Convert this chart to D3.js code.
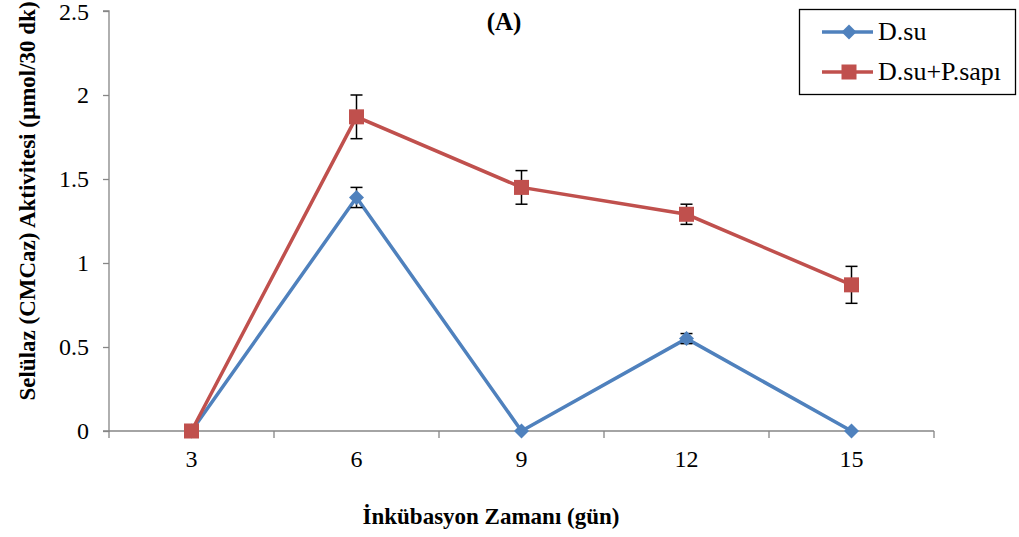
<!DOCTYPE html>
<html>
<head>
<meta charset="utf-8">
<script src="https://cdn.jsdelivr.net/npm/d3@7"></script>
<style>
  body { margin: 0; background: #fff; }
  text { font-family: "Liberation Serif", "Times New Roman", serif; fill: #000; }
</style>
</head>
<body>
<script>
var categories = ['3', '6', '9', '12', '15'],
    seriesNames = ['D.su', 'D.su+P.sapı'],
    suValues = [0, 1.39, 0, 0.55, 0],
    suErrors = [0, 0.06, 0, 0.03, 0],
    sapValues = [0, 1.87, 1.45, 1.29, 0.87],
    sapErrors = [0, 0.13, 0.1, 0.06, 0.11],
    yTicks = [0, 0.5, 1, 1.5, 2, 2.5];

var colors = ['#4F81BD', '#C0504D'];

var svg = d3.select('body').append('svg')
    .attr('width', 1019)
    .attr('height', 537);

var x = d3.scaleBand().domain(categories).range([109, 934]),
    y = d3.scaleLinear().domain([0, 2.5]).range([431, 11]);

// y axis
var yAxis = svg.append('g')
    .attr('transform', 'translate(109,0)')
    .call(d3.axisLeft(y).tickValues(yTicks).tickSize(6).tickPadding(14).tickFormat(function(d) { return d; }));
yAxis.selectAll('path, line').attr('stroke', '#868686').attr('stroke-width', 1.3);
yAxis.select('.domain').attr('d', 'M-6,11H0V431H-6');
yAxis.selectAll('text').style('font-size', '24px').style('font-family', 'Liberation Serif')
    .attr('dy', function(d) { return d === 2.5 ? '0.36em' : '0.32em'; });

// x axis
var xAxis = svg.append('g')
    .attr('transform', 'translate(0,431)')
    .call(d3.axisBottom(x).tickSize(0).tickPadding(19));
xAxis.select('.domain').attr('stroke', '#868686').attr('stroke-width', 1.3).attr('d', 'M109,0H934');
xAxis.selectAll('text').style('font-size', '24px').style('font-family', 'Liberation Serif');
var bounds = categories.map(function(c) { return x(c); }).concat([x.range()[1]]);
xAxis.selectAll('.bound').data(bounds).enter().append('line')
    .attr('x1', function(d) { return d; }).attr('x2', function(d) { return d; })
    .attr('y1', 0).attr('y2', 7)
    .attr('stroke', '#868686').attr('stroke-width', 1.3);

var cx = function(i) { return x(categories[i]) + x.bandwidth() / 2; };

var series = [
  { name: seriesNames[0], values: suValues, errors: suErrors, color: colors[0], marker: 'diamond' },
  { name: seriesNames[1], values: sapValues, errors: sapErrors, color: colors[1], marker: 'square' }
];

var line = d3.line()
    .x(function(d, i) { return cx(i); })
    .y(function(d) { return y(d); });

function drawMarker(g, type, px, py, color) {
  if (type === 'diamond') {
    g.append('path')
      .attr('d', 'M' + px + ',' + (py - 7.5) + 'L' + (px + 7.5) + ',' + py + 'L' + px + ',' + (py + 7.5) + 'L' + (px - 7.5) + ',' + py + 'Z')
      .attr('fill', color);
  } else {
    g.append('rect')
      .attr('x', px - 7.5).attr('y', py - 7.5)
      .attr('width', 15).attr('height', 15)
      .attr('fill', color);
  }
}

series.forEach(function(s) {
  var g = svg.append('g');
  g.append('path')
    .datum(s.values)
    .attr('d', line)
    .attr('fill', 'none')
    .attr('stroke', s.color)
    .attr('stroke-width', 3.5);

  s.values.forEach(function(v, i) {
    var e = s.errors[i];
    if (e > 0) {
      var px = cx(i);
      g.append('line').attr('x1', px).attr('x2', px).attr('y1', y(v + e)).attr('y2', y(v - e))
        .attr('stroke', '#000').attr('stroke-width', 1.5);
      [v + e, v - e].forEach(function(t) {
        g.append('line').attr('x1', px - 6).attr('x2', px + 6).attr('y1', y(t)).attr('y2', y(t))
          .attr('stroke', '#000').attr('stroke-width', 1.5);
      });
    }
  });

  s.values.forEach(function(v, i) {
    drawMarker(g, s.marker, cx(i), y(v), s.color);
  });
});

// title
svg.append('text')
  .attr('x', 504).attr('y', 30)
  .attr('text-anchor', 'middle')
  .style('font-size', '25px').style('font-weight', 'bold')
  .text('(A)');

// axis titles
svg.append('text')
  .attr('x', 491).attr('y', 524)
  .attr('text-anchor', 'middle')
  .style('font-size', '23px').style('font-weight', 'bold')
  .text('İnkübasyon Zamanı (gün)');

svg.append('text')
  .attr('transform', 'translate(35,201) rotate(-90)')
  .attr('text-anchor', 'middle')
  .style('font-size', '23px').style('font-weight', 'bold')
  .text('Selülaz (CMCaz) Aktivitesi (µmol/30 dk)');

// legend
var legend = svg.append('g');
legend.append('rect')
  .attr('x', 799.5).attr('y', 9.5).attr('width', 216).attr('height', 85)
  .attr('fill', '#fff').attr('stroke', '#000').attr('stroke-width', 1.3);

series.forEach(function(s, i) {
  var ly = 32 + i * 40;
  legend.append('line')
    .attr('x1', 822).attr('x2', 873).attr('y1', ly).attr('y2', ly)
    .attr('stroke', s.color).attr('stroke-width', 3.5);
  drawMarker(legend, s.marker, 849, ly, s.color);
  legend.append('text')
    .attr('x', 878).attr('y', ly + 8)
    .style('font-size', '26px')
    .text(s.name);
});
</script>
</body>
</html>
